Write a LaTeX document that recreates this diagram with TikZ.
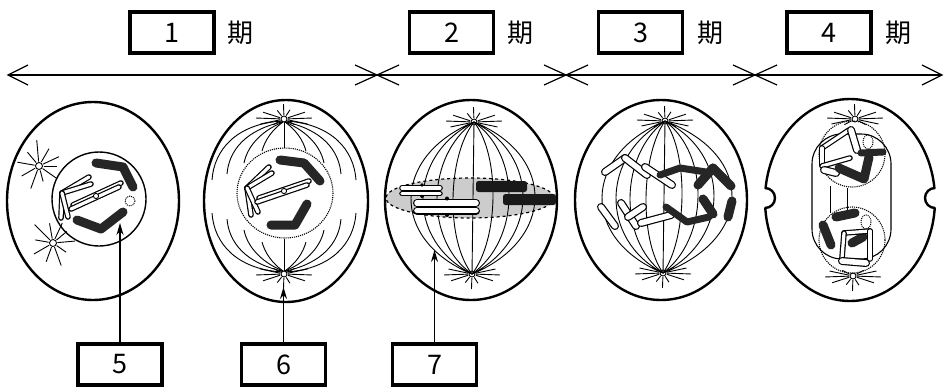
\documentclass[tikz,border=0pt]{standalone}
\usepackage{fontspec}
\newfontfamily\jpfont{Noto Sans CJK JP}
\usetikzlibrary{arrows.meta}

% one white chromatid: black rim with a white core
\newcommand\wchrom[2]{\draw[wo] #1 -- #2; \draw[wi] #1 -- #2;}
\newcommand\wchromw[2]{\draw[wow] #1 -- #2; \draw[wiw] #1 -- #2;}
% one quarter of the prophase spindle (upper left)
\newcommand\prosweep{%
  \draw[fib] (282,121) .. controls (236,124) and (214,150) .. (212,180);
  \draw[fib] (282,122) .. controls (246,130) and (229,150) .. (227,174);
  \draw[fib] (283,122) .. controls (259,132) and (247,148) .. (244,163);
  \draw[fib] (283,122) .. controls (272,130) and (265,140) .. (262,151);
}

\begin{document}
\begin{tikzpicture}[x=1pt,y=-1pt,
  wall/.style={line width=2.4},
  fib/.style={line width=0.9},
  env/.style={line width=1.1, densely dotted},
  tl/.style={line width=1.2},
  lbox/.style={draw, line width=3.6, minimum width=84, minimum height=41, inner sep=0,
               font=\jpfont\fontsize{27}{27}\selectfont},
  kanji/.style={inner sep=0, font=\jpfont\fontsize{26}{26}\selectfont},
  blk/.style={line width=9, line cap=round, line join=round, black!85},
  wo/.style={line width=5.6, line cap=round},
  wi/.style={white, line width=3.2, line cap=round},
  wow/.style={line width=8, line cap=round},
  wiw/.style={white, line width=5.6, line cap=round},
  ptr/.style={line width=1.2, -{Stealth[length=12pt,width=7pt]}},
  poletop/.pic={
    \draw[fib] (0,0) circle (3);
    \foreach \aa/\rr in {168/24,182/28,198/22,232/11,268/15,303/11,342/22,358/28,12/24,152/12,28/12}
      \draw[fib] (\aa:4) -- (\aa:\rr);
  },
  aster/.pic={
    \draw[fib] (0,0) circle (3.5);
    \foreach \aa/\rr in {0/18,35/22,75/16,110/24,150/20,190/22,230/18,265/26,300/20,335/22}
      \draw[fib] (\aa:4.5) -- (\aa:\rr);
  },
]
\useasboundingbox (0,0) rectangle (944,388);
\fill[white] (0,0) rectangle (944,388);

% ---------- phase labels ----------
\node[lbox] (b1) at (172,32.5) {1};
\node[kanji] (k1) at (240,33) {期};
\node[lbox] (b2) at (451.5,32.5) {2};
\node[kanji] (k2) at (520,33) {期};
\node[lbox] (b3) at (640.5,32.5) {3};
\node[kanji] (k3) at (710,33) {期};
\node[lbox] (b4) at (829,32.5) {4};
\node[kanji] (k4) at (898,33) {期};

% ---------- time line ----------
\coordinate (L) at (8,75);
\coordinate (R) at (942,75);
\draw[tl] (L) -- (R);
\draw[tl] (L) ++(20,-10) -- (L) -- ++(20,10);
\draw[tl] (R) ++(-20,-10) -- (R) -- ++(-20,10);
\foreach \xx in {377,566,755} {
  \coordinate (X) at (\xx,75);
  \draw[tl] (X) ++(-22,-10) -- ++(44,20);
  \draw[tl] (X) ++(-22,10) -- ++(44,-20);
}

% ---------- cell 1 ----------
\draw[wall] (93,201) ellipse [x radius=86, y radius=99];
\draw[line width=1.4] (99,199) circle (47);
\pic at (39,166) {aster};
\pic[rotate=40] at (53,243) {aster};
\wchrom{(62,193)}{(89,177)}
\wchrom{(62,193)}{(91,184)}
\wchrom{(62,193)}{(61,218)}
\wchrom{(62,193)}{(68,217)}
\wchrom{(73,205)}{(121,183)}
\wchrom{(71,209)}{(119,187)}
\draw[fill=white, line width=0.9] (96,196) circle (2.6);
\draw[blk] (96,163) -- (123,167) -- (133,187);
\draw[blk] (77,220) -- (101,229) -- (123,212);
\draw[line width=1, densely dotted] (130,201) circle (5);

% ---------- cell 2 ----------
\draw[wall] (286,201) ellipse [x radius=82, y radius=101];
\prosweep
\begin{scope}[shift={(568,0)}, xscale=-1]\prosweep\end{scope}
\begin{scope}[shift={(0,393)}, yscale=-1]\prosweep\end{scope}
\begin{scope}[shift={(568,393)}, scale=-1]\prosweep\end{scope}
\draw[fib] (284,122) -- (284,148);
\draw[fib] (284,271) -- (284,239);
\pic at (284,119) {poletop};
\pic[yscale=-1] at (284,274) {poletop};
\draw[env] (285,193) ellipse [x radius=48, y radius=45];
\wchrom{(247,188)}{(269,167)}
\wchrom{(247,188)}{(272,173)}
\wchrom{(247,188)}{(251,215)}
\wchrom{(247,188)}{(258,212)}
\wchrom{(259,198)}{(309,181)}
\wchrom{(257,202)}{(307,185)}
\draw[fill=white, line width=0.9] (284,191) circle (2.6);
\draw[blk] (280,160) -- (304,163) -- (320,181);
\draw[blk] (271,225) -- (295,225) -- (307,204);

% ---------- cell 3 ----------
\draw[wall] (471,200) ellipse [x radius=86, y radius=100];
\coordinate (t3) at (474,122);
\coordinate (u3) at (472,274);
\fill[gray!40] (470,198) ellipse [x radius=84, y radius=20];
\draw[fib] (t3) -- (u3);
\foreach \w in {20,36,50,62} {
  \draw[fib] (t3) .. controls +({1.333*\w},34) and +({1.333*\w},-34) .. (u3);
  \draw[fib] (t3) .. controls +({-1.333*\w},34) and +({-1.333*\w},-34) .. (u3);
}
\draw[dashed, line width=1.2] (470,198) ellipse [x radius=84, y radius=20];
\pic at (t3) {poletop};
\pic[yscale=-1] at (u3) {poletop};
\wchrom{(402,188)}{(440,188)}
\wchrom{(402,193.5)}{(440,193.5)}
\fill (422,185) circle (1.8);
\fill (422,196.5) circle (1.8);
\wchromw{(417,203)}{(476,203)}
\wchromw{(417,210.5)}{(476,210.5)}
\fill (447,198.5) circle (2);
\fill (447,215) circle (2);
\fill[black!90, rounded corners=2.5] (476,181) rectangle (527,192);
\fill[black!90, rounded corners=2.5] (503,194) rectangle (556,205);

% ---------- cell 4 ----------
\draw[wall] (661,200) ellipse [x radius=86, y radius=100];
\coordinate (t4) at (665,121);
\coordinate (u4) at (663,273);
\draw[fib] (t4) -- (u4);
\foreach \w in {18,34,48,62} {
  \draw[fib] (t4) .. controls +({-1.333*\w},34) and +({-1.333*\w},-34) .. (u4);
}
\foreach \w in {18,34,50,68} {
  \draw[fib] (t4) .. controls +({1.333*\w},34) and +({1.333*\w},-34) .. (u4);
}
\pic at (t4) {poletop};
\pic[yscale=-1] at (u4) {poletop};
\wchromw{(605,172)}{(625,158)}
\wchromw{(625,158)}{(647,175)}
\wchromw{(645,167)}{(672,185)}
\wchromw{(601,207)}{(615,226)}
\wchromw{(621,203)}{(636,226)}
\wchromw{(628,217)}{(643,207)}
\wchromw{(641,223)}{(671,215)}
\draw[blk, line width=7] (660,175) -- (680,168) -- (706,172);
\draw[blk] (698,185) -- (713,168);
\draw[blk] (713,168) -- (731,186);
\draw[blk] (703,199) -- (713,214);
\draw[blk] (732,201) -- (728,217);
\draw[blk, line width=7] (666,207) -- (687,222) -- (709,217);

% ---------- cell 5 ----------
\draw[wall] (850,200) ellipse [x radius=85, y radius=101];
\fill[white] (765,198) circle (9.5);
\fill[white] (935,198) circle (9.5);
\draw[wall] (765,188) arc[start angle=-90, end angle=90, radius=10];
\draw[wall] (935,188) arc[start angle=270, end angle=90, radius=10];
\draw[line width=1.1, rounded corners=30] (812,134) rectangle (891,259);
\draw[fib] (830,186) -- (830,213);
\draw[fib] (847,188) -- (847,211);
\draw[env] (852,154) circle (33);
\draw[env] (852,240) circle (33);
\draw[line width=1, densely dotted] (868,142) ellipse [x radius=5, y radius=7];
\draw[line width=1, densely dotted] (866,222) ellipse [x radius=5, y radius=7];
\pic at (855,119) {poletop};
\pic[yscale=-1] at (853,276) {poletop};
\wchrom{(822,148)}{(849,130)}
\wchrom{(822,148)}{(822,165)}
\wchrom{(822,166)}{(850,158)}
\wchromw{(851,130)}{(857,150)}
\wchromw{(824,170)}{(836,173)}
\draw[blk] (839,168) -- (864,179) -- (869,157);
\draw[blk, line width=7] (861,153) -- (883,152);
\draw[blk] (823,225) -- (831,245);
\draw[blk] (836,217) -- (855,213);
\draw[blk] (852,243) -- (863,237);
\wchrom{(844,233)}{(870,231)}
\wchrom{(870,231)}{(870,259)}
\wchrom{(844,233)}{(842,258)}
\wchromw{(842,261)}{(866,263)}

% ---------- structure labels ----------
\node[lbox] (b5) at (120,364.5) {5};
\node[lbox] (b6) at (283.5,364.5) {6};
\node[lbox] (b7) at (434.5,364.5) {7};
\coordinate (t5) at (120,223);
\coordinate (t6) at (283.5,287);
\coordinate (t7) at (434.5,250);
\draw[ptr] (b5.north) -- (t5);
\draw[ptr] (b6.north) -- (t6);
\draw[ptr] (b7.north) -- (t7);
\end{tikzpicture}
\end{document}
